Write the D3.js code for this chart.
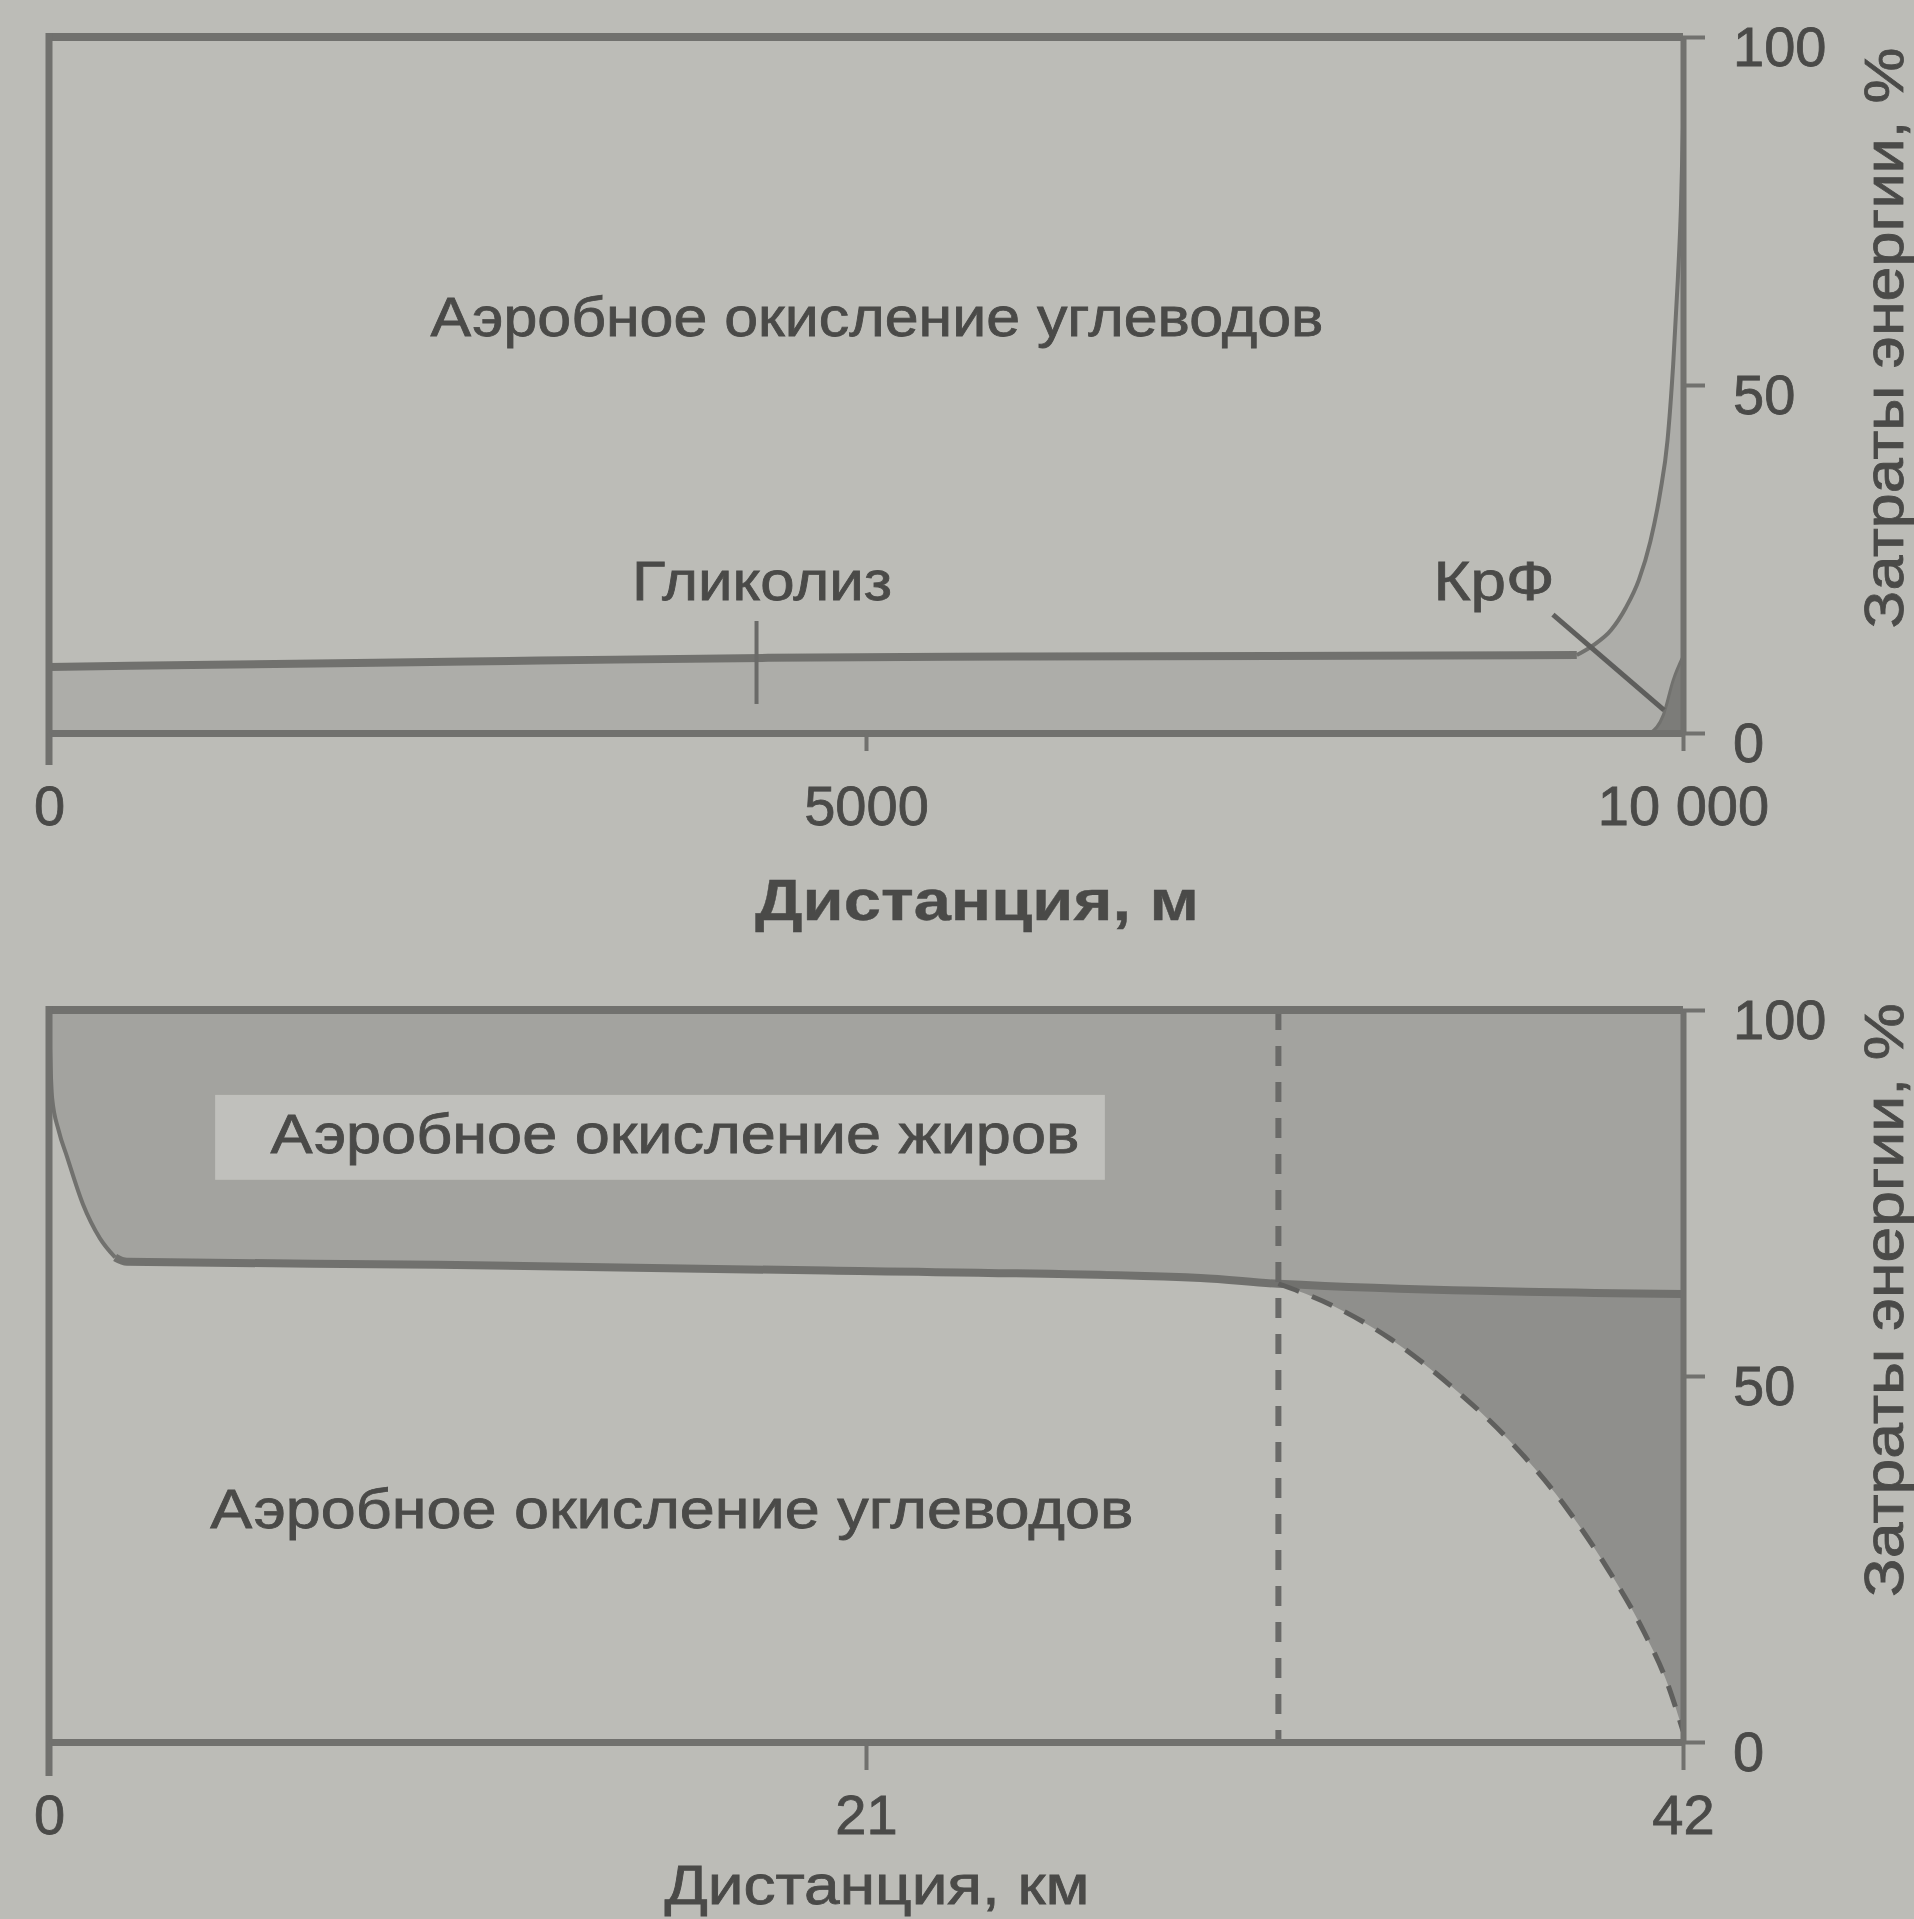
<!DOCTYPE html>
<html><head><meta charset="utf-8">
<script src="https://cdn.jsdelivr.net/npm/d3@7"></script>
<style>
html,body{margin:0;padding:0;background:#bababa;}
svg{display:block;}
</style></head><body>
<svg id="c" width="1914" height="1919"></svg>
<script>
// ===== Panel A: 10 000 m run =====
const runDistM       = [0, 1000, 2000, 3000, 4400, 6000, 8000, 9350, 9450, 9560, 9650, 9730, 9800, 9860, 9905, 9940, 9968, 9988, 10000];
const glycolysisTop  = [9.5, 9.8, 10.1, 10.4, 10.8, 11.0, 11.1, 11.2, 12.6, 14.8, 18.0, 22.0, 27.5, 34.5, 42.0, 53.0, 65.0, 76.0, 87.0];
const crpDistM       = [9800, 9880, 9940, 10000];
const crpTop         = [0, 2.6, 7.6, 11.0];
const glycolysisMarkM = 4330;
const crpLeader      = [[9204, 17.0], [9884, 3.3]];
const runTicks       = [0, 5000, 10000];
const runTickLabels  = ["0", "5000", "10 000"];

// ===== Panel B: marathon =====
const marDistKm      = [0, 0.03, 0.08, 0.25, 0.46, 0.87, 1.31, 1.7, 2, 10, 20, 29.6, 31.6, 42];
const carbFatBoundary= [100, 94, 88, 83.5, 80.0, 73.5, 68.8, 66.2, 65.6, 65.2, 64.4, 63.4, 62.6, 61.2];
const depletionKm    = [31.6, 33, 34.5, 36, 37.5, 39, 40, 41, 41.6, 42];
const carbsDepleted  = [62.6, 59.6, 55.0, 48.8, 41.4, 32.0, 24.2, 15.0, 8.0, 1.5];
const glycogenWallKm = 31.6;
const marTicks       = [0, 21, 42];
const marTickLabels  = ["0", "21", "42"];

// shared
const energyTicks      = [0, 50, 100];
const energyTickLabels = ["0", "50", "100"];

// annotations: [text, x, baseline y (data units), textLength]
const runLabels = [
  ["Аэробное окисление углеводов", 5067, 57.0, 893],
  ["Гликолиз", 4364, 19.1, 260],
  ["КрФ", 8843, 19.1, 121]
];
const marLabels = [
  ["Аэробное окисление жиров", 16.09, 80.5, 809],
  ["Аэробное окисление углеводов", 16.01, 29.2, 923]
];
const fatLabelBox = [4.27, 88.4, 27.14, 76.8];

// ===== drawing =====
const FONT = '"Liberation Sans", Arial, Helvetica, sans-serif';
const LINE = "#71716e", TEXT = "#4a4a48";
const svg = d3.select("#c");
svg.append("rect").attr("width", 1914).attr("height", 1919).attr("fill", "#bcbcb7");

const xA = d3.scaleLinear().domain([0, 10000]).range([49, 1683]);
const yA = d3.scaleLinear().domain([0, 100]).range([733, 37]);
const xB = d3.scaleLinear().domain([0, 42]).range([49, 1683]);
const yB = d3.scaleLinear().domain([0, 100]).range([1742, 1010]);

function styleAxis(g, labelY, labelDy) {
  g.attr("font-family", FONT).attr("font-size", 56);
  g.select(".domain").attr("stroke", LINE).attr("stroke-width", 7);
  g.selectAll(".tick line").attr("stroke", LINE).attr("stroke-width", 4);
  g.selectAll(".tick text").attr("fill", TEXT).attr("stroke", TEXT).attr("stroke-width", 0.8);
  if (labelY !== null) g.selectAll(".tick text").attr("y", labelY).attr("dy", labelDy);
}
function label(g, t, x, y, len, size, extra) {
  const el = g.append("text").attr("x", x).attr("y", y).attr("text-anchor", "middle")
    .attr("font-family", FONT).attr("font-size", size).attr("fill", TEXT)
    .attr("stroke", TEXT).attr("stroke-width", 0.8)
    .attr("textLength", len).attr("lengthAdjust", "spacingAndGlyphs").text(t);
  if (extra) extra(el);
  return el;
}

// ---------- Panel A ----------
const gA = svg.append("g");
const runPts = runDistM.map((d, i) => ({ x: d, y: glycolysisTop[i] }));
const crpPts = crpDistM.map((d, i) => ({ x: d, y: crpTop[i] }));
const areaA = d3.area().x(p => xA(p.x)).y0(yA(0)).y1(p => yA(p.y)).curve(d3.curveMonotoneX);
const lineA = d3.line().x(p => xA(p.x)).y(p => yA(p.y)).curve(d3.curveMonotoneX);

gA.append("path").datum(runPts).attr("d", areaA).attr("fill", "#adada9");
gA.append("path").datum(crpPts).attr("d", areaA).attr("fill", "#7c7c79");
gA.append("path").datum(crpPts).attr("d", lineA).attr("fill", "none").attr("stroke", LINE).attr("stroke-width", 3);
const splitA = runDistM.indexOf(9350);
gA.append("path").datum(runPts.slice(0, splitA + 1)).attr("d", lineA)
  .attr("fill", "none").attr("stroke", LINE).attr("stroke-width", 8);
gA.append("path").datum(runPts.slice(splitA)).attr("d", lineA)
  .attr("fill", "none").attr("stroke", LINE).attr("stroke-width", 4);

// glycolysis marker
const gmY = d3.scaleLinear().domain(runDistM).range(glycolysisTop)(glycolysisMarkM);
gA.append("line").attr("x1", xA(glycolysisMarkM)).attr("x2", xA(glycolysisMarkM))
  .attr("y1", yA(gmY) - 37).attr("y2", yA(gmY) + 46)
  .attr("stroke", "#6a6a68").attr("stroke-width", 4);
// CrP leader
gA.append("line").attr("x1", xA(crpLeader[0][0])).attr("y1", yA(crpLeader[0][1]))
  .attr("x2", xA(crpLeader[1][0])).attr("y2", yA(crpLeader[1][1]))
  .attr("stroke", "#5e5e5c").attr("stroke-width", 5);

// frame
gA.append("line").attr("x1", xA(0)).attr("x2", xA(10000)).attr("y1", yA(100)).attr("y2", yA(100))
  .attr("stroke", LINE).attr("stroke-width", 8);
gA.append("line").attr("x1", xA(0)).attr("x2", xA(0)).attr("y1", yA(100) - 4).attr("y2", yA(0) + 32)
  .attr("stroke", LINE).attr("stroke-width", 7);

const axAx = gA.append("g").attr("transform", `translate(0,${yA(0)})`)
  .call(d3.axisBottom(xA).tickValues(runTicks).tickFormat((d, i) => runTickLabels[i]).tickSize(18).tickSizeOuter(0));
styleAxis(axAx, 92, 0);
const axAy = gA.append("g").attr("transform", `translate(${xA(10000)},0)`)
  .call(d3.axisRight(yA).tickValues(energyTicks).tickFormat((d, i) => energyTickLabels[i]).tickSize(22).tickPadding(28).tickSizeOuter(0));
styleAxis(axAy, null, null);
axAy.selectAll(".tick text").attr("dy", "0.5em");
axAy.select(".domain").attr("stroke-width", 6);

runLabels.forEach(([t, x, y, len]) => label(gA, t, xA(x), yA(y), len, 56));

label(svg, "Дистанция, м", 977, 920, 444, 58, el => el.attr("font-weight", "bold").attr("stroke-width", 0.4));
label(svg, "Затраты энергии, %", 0, 0, 581, 56, el => el.attr("x", null).attr("y", null)
  .attr("transform", "translate(1903,338) rotate(-90)"));

// ---------- Panel B ----------
const gB = svg.append("g");
const marPts = marDistKm.map((d, i) => ({ x: d, y: carbFatBoundary[i] }));
const upperAt = d3.scaleLinear().domain(marDistKm).range(carbFatBoundary);
const depPts = depletionKm.map((d, i) => ({ x: d, y: carbsDepleted[i], top: upperAt(d) }));

gB.append("path").datum(marPts)
  .attr("d", d3.area().x(p => xB(p.x)).y0(p => yB(p.y)).y1(yB(100)).curve(d3.curveMonotoneX))
  .attr("fill", "#a3a39f");
gB.append("path").datum(depPts)
  .attr("d", d3.area().x(p => xB(p.x)).y0(p => yB(p.y)).y1(p => yB(p.top)).curve(d3.curveMonotoneX))
  .attr("fill", "#8f8f8c");

// fat label box
gB.append("rect").attr("x", xB(fatLabelBox[0])).attr("y", yB(fatLabelBox[1]))
  .attr("width", xB(fatLabelBox[2]) - xB(fatLabelBox[0])).attr("height", yB(fatLabelBox[3]) - yB(fatLabelBox[1]))
  .attr("fill", "#c0c0bc");

const lineB = d3.line().x(p => xB(p.x)).y(p => yB(p.y)).curve(d3.curveMonotoneX);
const splitB = marDistKm.indexOf(1.7);
gB.append("path").datum(marPts.slice(0, splitB + 1)).attr("d", lineB)
  .attr("fill", "none").attr("stroke", LINE).attr("stroke-width", 4);
gB.append("path").datum(marPts.slice(splitB)).attr("d", lineB)
  .attr("fill", "none").attr("stroke", LINE).attr("stroke-width", 8);
gB.append("path").datum(depPts).attr("d", lineB)
  .attr("fill", "none").attr("stroke", "#5f5f5d").attr("stroke-width", 5).attr("stroke-dasharray", "22,14");
gB.append("line").attr("x1", xB(glycogenWallKm)).attr("x2", xB(glycogenWallKm))
  .attr("y1", yB(100)).attr("y2", yB(0))
  .attr("stroke", "#6a6a68").attr("stroke-width", 6).attr("stroke-dasharray", "20,16");

// frame
gB.append("line").attr("x1", xB(0)).attr("x2", xB(42)).attr("y1", yB(100)).attr("y2", yB(100))
  .attr("stroke", LINE).attr("stroke-width", 8);
gB.append("line").attr("x1", xB(0)).attr("x2", xB(0)).attr("y1", yB(100) - 4).attr("y2", yB(0) + 34)
  .attr("stroke", LINE).attr("stroke-width", 7);

const axBx = gB.append("g").attr("transform", `translate(0,${yB(0)})`)
  .call(d3.axisBottom(xB).tickValues(marTicks).tickFormat((d, i) => marTickLabels[i]).tickSize(28).tickSizeOuter(0));
styleAxis(axBx, 92, 0);
const axBy = gB.append("g").attr("transform", `translate(${xB(42)},0)`)
  .call(d3.axisRight(yB).tickValues(energyTicks).tickFormat((d, i) => energyTickLabels[i]).tickSize(22).tickPadding(28).tickSizeOuter(0));
styleAxis(axBy, null, null);
axBy.selectAll(".tick text").attr("dy", "0.5em");
axBy.select(".domain").attr("stroke-width", 6);

marLabels.forEach(([t, x, y, len]) => label(gB, t, xB(x), yB(y), len, 56));

label(svg, "Дистанция, км", 877, 1904, 425, 56);
label(svg, "Затраты энергии, %", 0, 0, 594, 56, el => el.attr("x", null).attr("y", null)
  .attr("transform", "translate(1903,1300) rotate(-90)"));
</script>
</body></html>
